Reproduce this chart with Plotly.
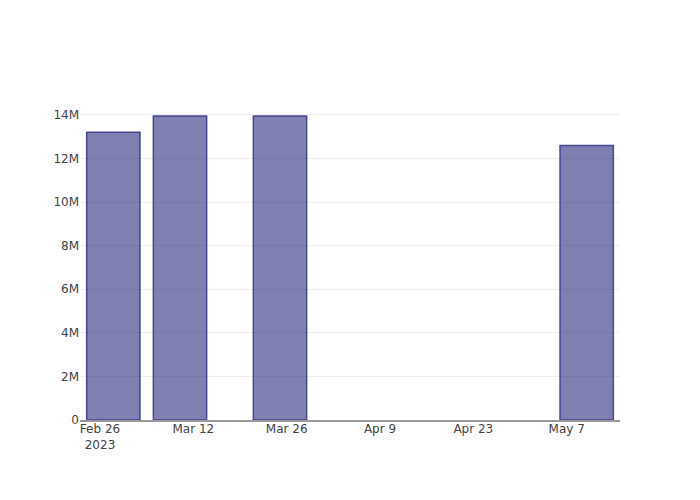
import plotly.graph_objects as go

dates = ["2023-02-28", "2023-03-10", "2023-03-25", "2023-05-10"]
values = [13.2e6, 13.95e6, 13.95e6, 12.6e6]

fig = go.Figure(
    go.Bar(
        x=dates,
        y=values,
        marker=dict(color="rgba(0,0,100,0.5)", line=dict(color="rgba(60,60,140,0.9)", width=1.5)),
    )
)
fig.update_layout(
    width=700,
    height=500,
    template="none",
    plot_bgcolor="white",
    paper_bgcolor="white",
    font=dict(family="DejaVu Sans, Open Sans, sans-serif", color="#444", size=12),
    margin=dict(l=80, r=80, t=100, b=80),
    showlegend=False,
)
fig.update_xaxes(
    type="date",
    range=["2023-02-23", "2023-05-15"],
    showgrid=False,
    showline=True,
    linecolor="#999",
    linewidth=1.5,
    ticks="",
    ticklen=0,
    ticklabelstandoff=-3,
    zeroline=False,
)
fig.update_yaxes(
    showgrid=True,
    gridcolor="#eee",
    gridwidth=1,
    zeroline=False,
    showline=False,
    ticks="",
    ticklen=0,
)
fig.write_html(
    "out.html",
    config={"displayModeBar": False},
    post_script="document.body.style.margin='0';",
)
